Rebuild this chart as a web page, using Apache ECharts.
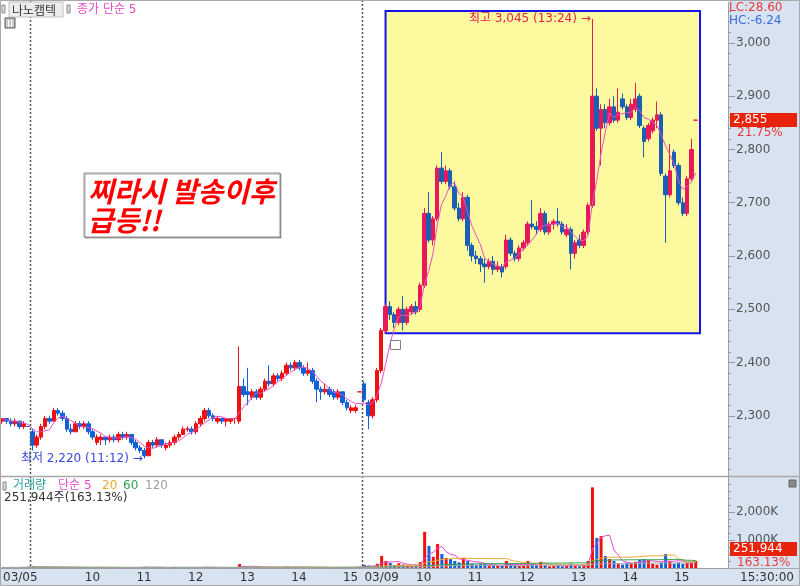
<!DOCTYPE html>
<html>
<head>
<meta charset="utf-8">
<script src="https://cdn.jsdelivr.net/npm/echarts@6/dist/echarts.min.js"></script>
<style>
  html, body { margin: 0; padding: 0; background: #fff; }
  #chart { width: 800px; height: 586px; }
</style>
</head>
<body>
<div id="chart"></div>
<script>
// 5-minute bars: day, first bar time, number of regular bars (a 15:30 closing bar follows)
const sessions = [
  ['03/04', '14:50', 6],
  ['03/05', '09:00', 76],
  ['03/09', '09:00', 77]
];
const padBars = 7;

// [open, high, low, close]
const bars0304 = [
  [2290,2295,2285,2295],[2295,2295,2285,2290],[2290,2295,2280,2285],[2285,2295,2280,2290],
  [2290,2290,2275,2280],[2280,2290,2275,2285],[2280,2280,2280,2280]
];
const bars0305 = [
  [2270,2275,2235,2245],[2245,2265,2240,2260],[2260,2285,2255,2280],[2280,2300,2275,2295],
  [2295,2300,2285,2290],[2290,2315,2290,2310],[2310,2315,2300,2305],[2305,2310,2290,2295],
  [2295,2300,2270,2275],[2275,2285,2265,2270],[2270,2290,2270,2285],[2285,2290,2275,2280],
  [2280,2290,2275,2285],[2285,2290,2265,2270],[2270,2275,2255,2260],[2250,2265,2245,2260],
  [2255,2265,2245,2260],[2260,2260,2245,2255],[2255,2265,2250,2260],[2260,2265,2250,2255],
  [2255,2270,2250,2265],[2265,2270,2255,2260],[2260,2270,2255,2265],[2265,2265,2245,2250],
  [2250,2255,2235,2240],[2240,2245,2230,2235],[2235,2240,2220,2225],[2225,2255,2225,2250],
  [2250,2255,2240,2245],[2245,2260,2240,2255],[2255,2255,2240,2245],[2240,2250,2235,2245],
  [2245,2255,2240,2250],[2250,2265,2245,2260],[2260,2270,2255,2265],[2265,2280,2265,2275],
  [2275,2280,2270,2275],[2275,2280,2265,2270],[2270,2290,2265,2285],[2285,2300,2280,2295],
  [2295,2315,2290,2310],[2310,2315,2295,2300],[2300,2305,2290,2295],[2290,2300,2285,2295],
  [2295,2295,2285,2290],[2290,2295,2280,2295],[2290,2295,2285,2295],[2295,2295,2285,2295],
  [2290,2430,2285,2355],[2355,2370,2335,2340],[2345,2390,2320,2340],[2335,2350,2330,2345],
  [2345,2350,2330,2335],[2335,2355,2330,2350],[2350,2370,2345,2365],[2365,2395,2355,2360],
  [2360,2380,2355,2375],[2375,2380,2365,2370],[2370,2385,2365,2380],[2380,2400,2375,2395],
  [2395,2400,2385,2390],[2390,2405,2385,2400],[2400,2405,2385,2390],[2390,2395,2375,2380],
  [2380,2400,2375,2385],[2385,2390,2360,2365],[2365,2370,2325,2350],[2350,2355,2330,2345],
  [2345,2360,2340,2350],[2350,2355,2335,2340],[2345,2350,2330,2335],[2335,2350,2330,2345],
  [2345,2345,2320,2325],[2325,2330,2310,2315],[2310,2320,2305,2315],[2310,2320,2305,2315],
  [2345,2345,2345,2345]
];
const bars0309 = [
  [2360,2365,2325,2330],[2325,2330,2275,2300],[2300,2335,2295,2330],[2330,2390,2325,2385],
  [2385,2465,2380,2460],[2460,2510,2455,2505],[2505,2515,2480,2490],[2490,2495,2465,2475],
  [2475,2505,2470,2500],[2500,2525,2460,2475],[2475,2505,2470,2500],[2495,2510,2490,2505],
  [2505,2515,2490,2495],[2500,2550,2495,2545],[2545,2690,2540,2680],[2680,2720,2625,2630],
  [2630,2675,2620,2670],[2670,2770,2665,2765],[2765,2795,2735,2740],[2740,2770,2735,2760],
  [2760,2765,2725,2730],[2730,2740,2685,2690],[2690,2700,2665,2670],[2670,2720,2665,2710],
  [2710,2715,2610,2620],[2620,2625,2590,2600],[2600,2610,2585,2595],[2595,2600,2570,2585],
  [2585,2595,2550,2580],[2580,2595,2575,2590],[2590,2600,2565,2575],[2575,2590,2570,2580],
  [2580,2585,2560,2570],[2580,2640,2575,2630],[2630,2635,2600,2605],[2605,2610,2590,2595],
  [2595,2620,2590,2615],[2615,2630,2610,2625],[2625,2665,2620,2660],[2660,2705,2650,2655],
  [2655,2665,2640,2650],[2650,2690,2645,2680],[2680,2685,2640,2645],[2645,2665,2640,2660],
  [2660,2670,2650,2665],[2665,2690,2655,2660],[2660,2665,2640,2645],[2640,2660,2635,2650],
  [2650,2655,2575,2605],[2605,2630,2595,2625],[2630,2640,2615,2620],[2620,2650,2615,2645],
  [2645,2700,2640,2695],[2695,3045,2690,2900],[2900,2915,2835,2840],[2840,2885,2770,2875],
  [2875,2885,2840,2850],[2850,2895,2845,2880],[2880,2900,2850,2855],[2855,2915,2850,2870],
  [2895,2905,2875,2880],[2880,2885,2855,2860],[2860,2895,2855,2885],[2875,2925,2870,2895],
  [2900,2905,2840,2845],[2840,2845,2785,2815],[2820,2850,2815,2845],[2835,2860,2830,2855],
  [2855,2890,2840,2865],[2865,2870,2750,2755],[2750,2755,2625,2715],[2715,2810,2710,2760],
  [2795,2800,2765,2770],[2770,2775,2695,2700],[2700,2710,2675,2680],[2680,2750,2675,2745],
  [2745,2820,2740,2800],[2855,2855,2855,2855]
];

// volume, thousands of shares
const vol0304 = [20,15,25,10,30,20,45];
const vol0305 = [
  60,35,30,25,15,40,20,15,25,15, 20,10,15,20,15,25,10,15,10,10,
  20,10,15,20,25,20,45,30,15,20, 10,10,15,40,15,20,10,10,35,25,
  40,15,10,10,10,15,10,20,140,60, 50,30,20,35,40,30,25,15,20,50,
  20,45,15,20,15,20,25,15,10,15, 20,15,20,25,30,20,45
];
const vol0309 = [
  110,90,70,150,430,250,180,110,170,120, 90,80,90,210,1290,790,400,860,500,360,
  320,250,200,360,250,150,120,140,150,80, 100,70,90,250,140,80,70,90,250,150,
  100,220,110,60,70,80,60,90,160,80, 60,120,250,2880,1070,1140,430,320,250,150,
  120,200,180,220,300,320,280,150,120,200, 500,250,150,200,150,180,220,251.944
];

// time strip
const tickAt = ['03/04 14:50','03/05 10:00','03/05 11:00','03/05 12:00','03/05 13:00','03/05 14:00','03/05 15:00',
  '03/09 09:00','03/09 10:00','03/09 11:00','03/09 12:00','03/09 13:00','03/09 14:00','03/09 15:00'];
const tickText = ['03/05','10','11','12','13','14','15','03/09','10','11','12','13','14','15'];

const priceLabels = [2300,2400,2500,2600,2700,2800,2900,3000];
const volLabels = [1000,2000];

const pad2 = n => (n < 10 ? '0' : '') + n;
const categories = [];
sessions.forEach(([day, start, n]) => {
  let [h, m] = start.split(':').map(Number);
  for (let k = 0; k < n; k++) {
    categories.push(day + ' ' + pad2(h) + ':' + pad2(m));
    m += 5;
    if (m >= 60) { m -= 60; h++; }
  }
  categories.push(day + ' 15:30');
});
for (let k = 1; k <= padBars; k++) categories.push('+' + k);

const bars = bars0304.concat(bars0305, bars0309);
const vols = vol0304.concat(vol0305, vol0309);
const closes = bars.map(b => b[3]);

function movingAvg(vals, n) {
  return vals.map((v, i) => {
    const win = vals.slice(Math.max(0, i - n + 1), i + 1);
    return +(win.reduce((a, b) => a + b, 0) / win.length).toFixed(2);
  });
}
const fmt = v => v.toLocaleString('en-US');

// rising bar? (a flat bar compares with the previous close)
const isUp = i => {
  const b = bars[i];
  if (b[3] !== b[0]) return b[3] > b[0];
  return i === 0 || b[3] >= bars[i - 1][3];
};

// highlighted box
const boxFrom = 89, boxTo = 162, boxTop = 3060, boxBottom = 2455;

let hiIdx = 0, loIdx = 0;
bars.forEach((b, i) => {
  if (b[1] > bars[hiIdx][1]) hiIdx = i;
  if (b[2] < bars[loIdx][2]) loIdx = i;
});

const RED = '#F01010', BLUE = '#1060D8', PINK = '#E8195A', BOXBLUE = '#1A5FB4';
const candleData = bars.map((b, i) => {
  const inBox = i >= boxFrom;
  const c = isUp(i) ? (inBox ? PINK : RED) : (inBox ? BOXBLUE : BLUE);
  return {
    value: [b[0], b[3], b[2], b[1]],
    itemStyle: { color: c, color0: c, borderColor: c, borderColor0: c }
  };
});

const volData = vols.map((v, i) => ({ value: v, itemStyle: { color: isUp(i) ? RED : BLUE } }));

const priceTicks = [];
for (let v = 2200; v <= 3060; v += 20) priceTicks.push(v);
const volTicks = [];
for (let v = 250; v <= 3000; v += 250) volTicks.push(v);

const FONT = "'DejaVu Sans', 'Noto Sans CJK KR', sans-serif";
const KFONT = "'Noto Sans CJK KR', sans-serif";
const tickIdx = tickAt.map(t => categories.indexOf(t));

const chart = echarts.init(document.getElementById('chart'));

const option = {
  animation: false,
  textStyle: { fontFamily: FONT },
  grid: [
    { left: 0, right: 72, top: 3, height: 473 },
    { left: 0, right: 72, top: 477, bottom: 18 }
  ],
  xAxis: [
    {
      type: 'category', gridIndex: 0, data: categories, boundaryGap: true,
      axisLine: { show: false }, axisTick: { show: false }, axisLabel: { show: false }, splitLine: { show: false }
    },
    {
      type: 'category', gridIndex: 1, data: categories, boundaryGap: true,
      axisLine: { lineStyle: { color: '#A0A0A0' } },
      axisTick: {
        interval: (i) => tickIdx.indexOf(i) > 0,
        length: 18, lineStyle: { color: '#A0A0A0' }
      },
      axisLabel: {
        interval: (i) => tickIdx.indexOf(i) >= 0,
        formatter: (v, i) => { const k = tickIdx.indexOf(i); return k >= 0 ? tickText[k] : ''; },
        align: 'left', color: '#333', fontSize: 12, margin: 4, fontFamily: FONT
      },
      splitLine: { show: false }
    }
  ],
  yAxis: [
    {
      type: 'value', gridIndex: 0, position: 'right', min: 2187, max: 3075, scale: true,
      axisLine: { show: true, lineStyle: { color: '#A0A0A0' } },
      axisTick: { show: true, customValues: priceTicks, length: 3, lineStyle: { color: '#999' } },
      axisLabel: { customValues: priceLabels, formatter: v => fmt(v), color: '#555', fontSize: 12, margin: 8, fontFamily: FONT },
      splitLine: { show: false }
    },
    {
      type: 'value', gridIndex: 0, position: 'right', min: 2187, max: 3075,
      axisLine: { show: false },
      axisTick: { show: true, customValues: priceLabels, length: 7, lineStyle: { color: '#999' } },
      axisLabel: { show: false }, splitLine: { show: false }
    },
    {
      type: 'value', gridIndex: 1, position: 'right', min: 0, max: 3250,
      axisLine: { show: true, lineStyle: { color: '#A0A0A0' } },
      axisTick: { show: true, customValues: volTicks, length: 3, lineStyle: { color: '#999' } },
      axisLabel: { customValues: volLabels, formatter: v => fmt(v) + 'K', color: '#555', fontSize: 12, margin: 8, fontFamily: FONT },
      splitLine: { show: false }
    },
    {
      type: 'value', gridIndex: 1, position: 'right', min: 0, max: 3250,
      axisLine: { show: false },
      axisTick: { show: true, customValues: volLabels, length: 7, lineStyle: { color: '#999' } },
      axisLabel: { show: false }, splitLine: { show: false }
    }
  ],
  series: [
    {
      name: 'box', type: 'line', xAxisIndex: 0, yAxisIndex: 0, data: [], silent: true, z: 1,
      markArea: {
        silent: true,
        itemStyle: { color: '#FCF99E', borderColor: '#1414F0', borderWidth: 2 },
        data: [[{ coord: [boxFrom, boxTop] }, { coord: [boxTo, boxBottom] }]]
      }
    },
    {
      name: '나노캠텍', type: 'candlestick', xAxisIndex: 0, yAxisIndex: 0, z: 3,
      barWidth: 4, data: candleData,
      itemStyle: { color: RED, color0: BLUE, borderColor: RED, borderColor0: BLUE, borderWidth: 1 },
      markPoint: {
        symbol: 'circle', symbolSize: 1, itemStyle: { color: 'rgba(0,0,0,0)' },
        data: [
          {
            coord: [hiIdx, bars[hiIdx][1]],
            label: { show: true, position: 'left', distance: 1, formatter: '최고 ' + fmt(bars[hiIdx][1]) + ' (13:24) →', color: '#E8204A', fontSize: 12, fontFamily: FONT }
          },
          {
            coord: [loIdx, bars[loIdx][2]],
            label: { show: true, position: 'left', distance: 1, formatter: '최저 ' + fmt(bars[loIdx][2]) + ' (11:12) →', color: '#3848E0', fontSize: 12, fontFamily: FONT }
          }
        ]
      }
    },
    {
      name: '종가 단순 5', type: 'line', xAxisIndex: 0, yAxisIndex: 0, z: 4,
      data: movingAvg(closes, 5), showSymbol: false, symbol: 'none',
      lineStyle: { color: '#E850C8', width: 1 }
    },
    {
      name: '거래량', type: 'bar', xAxisIndex: 1, yAxisIndex: 2, barWidth: 3, data: volData, z: 2
    },
    { name: '단순 5', type: 'line', xAxisIndex: 1, yAxisIndex: 2, data: movingAvg(vols, 5), symbol: 'none', lineStyle: { color: '#E64AD0', width: 1 }, z: 4 },
    { name: '20', type: 'line', xAxisIndex: 1, yAxisIndex: 2, data: movingAvg(vols, 20), symbol: 'none', lineStyle: { color: '#F0A830', width: 1 }, z: 4 },
    { name: '60', type: 'line', xAxisIndex: 1, yAxisIndex: 2, data: movingAvg(vols, 60), symbol: 'none', lineStyle: { color: '#30A050', width: 1 }, z: 4 },
    { name: '120', type: 'line', xAxisIndex: 1, yAxisIndex: 2, data: movingAvg(vols, 120), symbol: 'none', lineStyle: { color: '#A8A8A8', width: 1 }, z: 4 }
  ]
};
chart.setOption(option);

// overlays that depend on the drawn scales
const band = chart.convertToPixel({ xAxisIndex: 0 }, 1) - chart.convertToPixel({ xAxisIndex: 0 }, 0);
const dayStart = d => chart.convertToPixel({ xAxisIndex: 0 }, categories.indexOf(d)) - band / 2;
const lastClose = closes[closes.length - 1];
const lastVol = vols[vols.length - 1];
const py = Math.round(chart.convertToPixel({ yAxisIndex: 0 }, lastClose));

const txt = (x, y, text, fill, extra) => Object.assign({
  type: 'text', z: 100, x: x, y: y,
  style: Object.assign({ text: text, fill: fill, font: '12px ' + FONT, textVerticalAlign: 'middle' }, extra || {})
});

const g = [
  { type: 'rect', z: -10, shape: { x: 728, y: 0, width: 72, height: 586 }, style: { fill: '#D7E3F0' } },
  { type: 'rect', z: -10, shape: { x: 0, y: 568, width: 728, height: 18 }, style: { fill: '#D7E3F0' } },
  { type: 'rect', z: 60, shape: { x: 0.5, y: 0.5, width: 799, height: 585 }, style: { fill: 'none', stroke: '#A8A8A8' } },
  { type: 'line', z: 60, shape: { x1: 0, y1: 476.5, x2: 800, y2: 476.5 }, style: { stroke: '#A8A8A8', lineWidth: 1.5 } },
  { type: 'line', z: 60, shape: { x1: 728, y1: 568.5, x2: 800, y2: 568.5 }, style: { stroke: '#A8A8A8' } }
];
['03/05 09:00', '03/09 09:00'].forEach(d => {
  const x = Math.round(dayStart(d)) + 0.5;
  g.push({ type: 'line', z: 20, shape: { x1: x, y1: 0, x2: x, y2: 568 }, style: { stroke: '#555', lineWidth: 1.5, lineDash: [2, 2] } });
});

// price legend
g.push({ type: 'rect', z: 100, shape: { x: 2, y: 5, width: 3, height: 8 }, style: { fill: '#ddd', stroke: '#888' } });
g.push({ type: 'rect', z: 100, shape: { x: 9, y: 2, width: 54, height: 15 }, style: { fill: '#EDEDED', stroke: '#C0C0C0' } });
g.push(txt(12, 10, '나노캠텍', '#333', { font: '12px ' + KFONT }));
g.push({ type: 'rect', z: 100, shape: { x: 67, y: 5, width: 3, height: 8 }, style: { fill: '#ddd', stroke: '#888' } });
g.push(txt(77, 10, '종가 단순 5', '#E64AC8'));
g.push({ type: 'rect', z: 100, shape: { x: 5, y: 18, width: 10, height: 10 }, style: { fill: '#C8C8C8', stroke: '#555' } });
g.push({ type: 'line', z: 101, shape: { x1: 8.5, y1: 20, x2: 8.5, y2: 27 }, style: { stroke: '#fff' } });
g.push({ type: 'line', z: 101, shape: { x1: 11.5, y1: 20, x2: 11.5, y2: 27 }, style: { stroke: '#fff' } });

// volume legend
g.push({ type: 'rect', z: 100, shape: { x: 3, y: 482, width: 3, height: 8 }, style: { fill: '#ddd', stroke: '#888' } });
g.push(txt(13, 486, '거래량', '#30A0A0'));
g.push(txt(58, 486, '단순 5', '#E64AD0'));
g.push(txt(102, 486, '20', '#F0A830'));
g.push(txt(123, 486, '60', '#30A050'));
g.push(txt(145, 486, '120', '#A0A0A0'));
g.push(txt(4, 498, fmt(Math.round(lastVol * 1000)) + '주(163.13%)', '#333'));

// right-hand panel notes
g.push(txt(729, 8, 'LC:28.60', '#E83A3A'));
g.push(txt(729, 21, 'HC:-6.24', '#3A6AE0'));
g.push({ type: 'rect', z: 100, shape: { x: 730, y: py - 7, width: 67, height: 14 }, style: { fill: '#E8230C' } });
g.push(txt(733, py, fmt(lastClose), '#fff'));
g.push(txt(737, py + 13, '21.75%', '#E83A3A'));
g.push({ type: 'rect', z: 100, shape: { x: 730, y: 542, width: 67, height: 14 }, style: { fill: '#E8230C' } });
g.push(txt(733, 549, fmt(Math.round(lastVol * 1000)), '#fff'));
g.push(txt(737, 563, '163.13%', '#E83A3A'));
g.push({ type: 'rect', z: 100, shape: { x: 789, y: 480, width: 7, height: 7 }, style: { fill: '#888', stroke: '#666' } });
g.push(txt(740, 578, '15:30:00', '#333'));

// callout box
g.push({ type: 'rect', z: 100, shape: { x: 84, y: 173, width: 196, height: 64 }, style: { fill: '#fff', stroke: '#909090', lineWidth: 1, shadowColor: 'rgba(0,0,0,0.35)', shadowOffsetX: 1, shadowOffsetY: 1 } });
g.push(txt(88, 191, '찌라시 발송이후', '#FF0000', { font: 'italic bold 28px ' + KFONT }));
g.push(txt(88, 220, '급등!!', '#FF0000', { font: 'italic bold 28px ' + KFONT }));
g.push({ type: 'rect', z: 100, shape: { x: 390.5, y: 340.5, width: 10, height: 9 }, style: { fill: '#fff', stroke: '#808080' } });

chart.setOption({ graphic: g });
window.addEventListener('resize', () => chart.resize());
</script>
</body>
</html>
